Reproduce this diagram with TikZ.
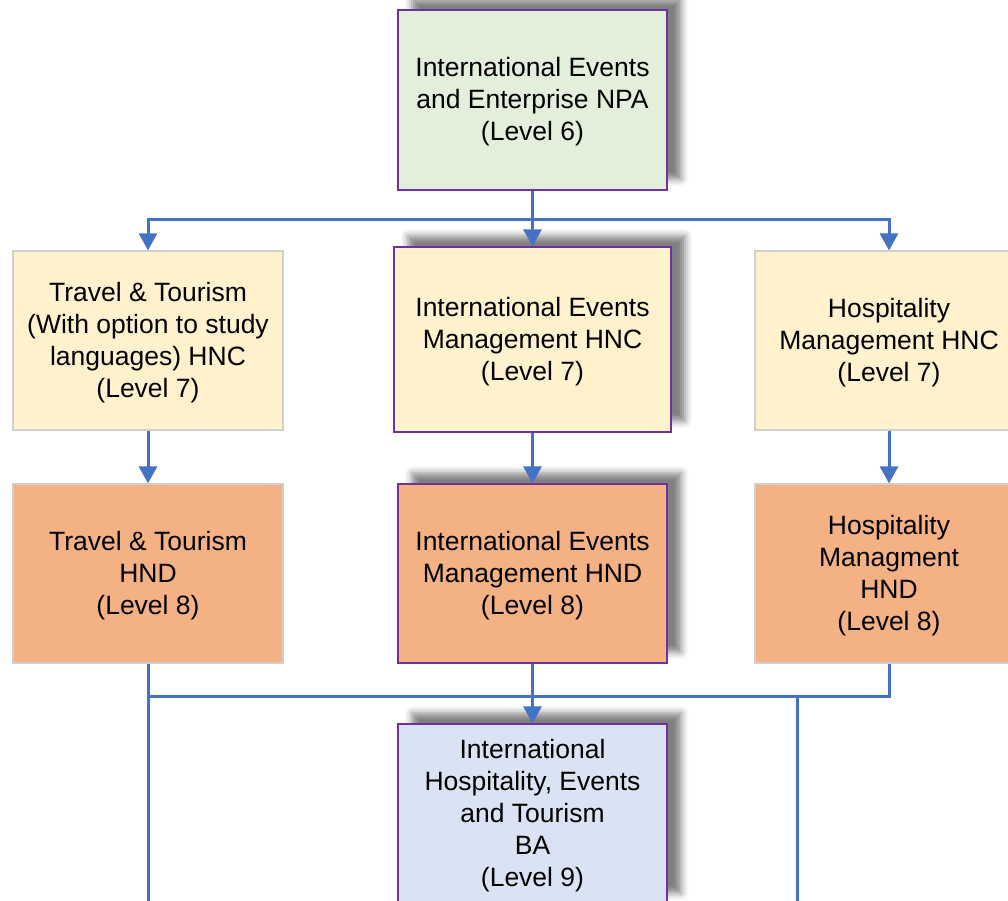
\documentclass[tikz,border=0pt]{standalone}
\usepackage{fontspec}
\setmainfont{Liberation Sans}
\usetikzlibrary{arrows.meta,shadows.blur}
\definecolor{cgreen}{HTML}{E2EFDA}
\definecolor{cyellow}{HTML}{FFF2CC}
\definecolor{corange}{HTML}{F4B183}
\definecolor{cblue}{HTML}{DAE3F3}
\definecolor{cpurple}{HTML}{7030A0}
\definecolor{cedge}{HTML}{D0D0D0}
\definecolor{cline}{HTML}{4472C4}
\tikzset{
  box/.style={rectangle, inner sep=0pt},
  txt/.style={inner sep=0pt, align=center, font=\fontsize{26.5}{32}\selectfont},
  mainbox/.style={box, draw=cpurple, line width=1.3pt,
    blur shadow={shadow xshift=14pt, shadow yshift=11pt, shadow blur radius=7pt, shadow opacity=50}},
  sidebox/.style={box, draw=cedge, line width=1.2pt},
  conn/.style={draw=cline, line width=3pt},
  arr/.style={conn, -{Triangle[length=17pt,width=18pt]}},
}
\begin{document}
\begin{tikzpicture}[x=1pt,y=-1pt]
\useasboundingbox (0,0) rectangle (1008,900);
\clip (0,0) rectangle (1008,900);
% boxes
\node[mainbox, fill=cgreen, minimum width=269pt, minimum height=180pt] (npa) at (532.5,100) {};
\node[sidebox, fill=cyellow, minimum width=270pt, minimum height=179pt] (tt7) at (148,340.5) {};
\node[mainbox, fill=cyellow, minimum width=277pt, minimum height=185pt] (ie7) at (532.5,339.5) {};
\node[sidebox, fill=cyellow, minimum width=268pt, minimum height=179pt] (hm7) at (889,340.5) {};
\node[sidebox, fill=corange, minimum width=270pt, minimum height=179pt] (tt8) at (148,573.5) {};
\node[mainbox, fill=corange, minimum width=269pt, minimum height=179pt] (ie8) at (532.5,573.5) {};
\node[sidebox, fill=corange, minimum width=268pt, minimum height=179pt] (hm8) at (889,573.5) {};
\node[mainbox, fill=cblue, minimum width=269pt, minimum height=180pt] (ba) at (532.5,814) {};
% texts
\node[txt] (npat) at ([yshift=-2pt]npa.center) {International Events\\and Enterprise NPA\\(Level 6)};
\node[txt] (tt7t) at ([yshift=-2pt]tt7.center) {Travel \& Tourism\\(With option to study\\languages) HNC\\(Level 7)};
\node[txt] (ie7t) at ([yshift=-2pt]ie7.center) {International Events\\Management HNC\\(Level 7)};
\node[txt] (hm7t) at ([yshift=-2pt]hm7.center) {Hospitality\\Management HNC\\(Level 7)};
\node[txt] (tt8t) at ([yshift=-2pt]tt8.center) {Travel \& Tourism\\HND\\(Level 8)};
\node[txt] (ie8t) at ([yshift=-2pt]ie8.center) {International Events\\Management HND\\(Level 8)};
\node[txt] (hm8t) at ([yshift=-2pt]hm8.center) {Hospitality\\Managment\\HND\\(Level 8)};
\node[txt] (bat) at ([yshift=-2pt]ba.center) {International\\Hospitality, Events\\and Tourism\\BA\\(Level 9)};
% junction coordinates
\coordinate (j1) at (532.5,219);
\coordinate (j2) at (148,696);
\coordinate (j3) at (889,696);
\coordinate (j4) at (797,696);
\coordinate (e1) at (148,910);
\coordinate (e2) at (797,910);
% connectors
\draw[conn] (npa.south) -- (j1);
\draw[arr] (j1) -| (tt7.north);
\draw[arr] (j1) -| (hm7.north);
\draw[arr] (j1) -- (ie7.north);
\draw[arr] (tt7.south) -- (tt8.north);
\draw[arr] (ie7.south) -- (ie8.north);
\draw[arr] (hm7.south) -- (hm8.north);
\draw[conn] (tt8.south) -- (e1);
\draw[conn] (j2) -- (j3) -- (hm8.south);
\draw[arr] (ie8.south) -- (ba.north);
\draw[conn] (j4) -- (e2);
\end{tikzpicture}
\end{document}
